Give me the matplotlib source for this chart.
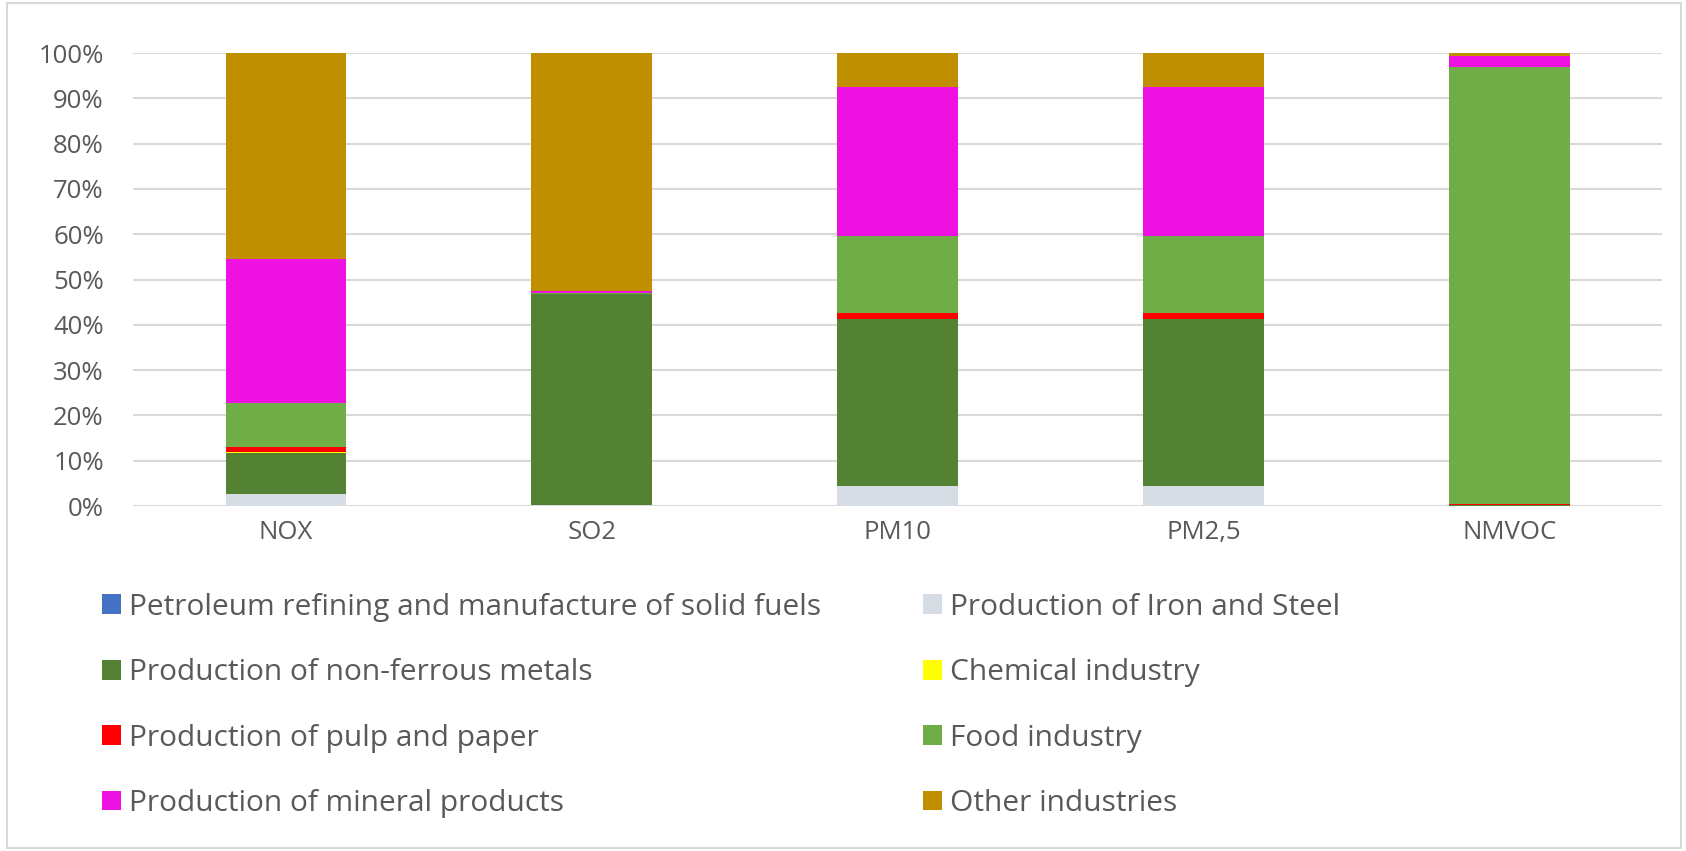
import matplotlib.pyplot as plt
import numpy as np
from matplotlib.patches import Patch, Rectangle

# Pollutants on the x axis
pollutants = ["NOX", "SO2", "PM10", "PM2,5", "NMVOC"]

# Share of each industry in the emissions of each pollutant (%)
petroleum = [0.0, 0.0, 0.0, 0.0, 0.0]
iron_steel = [2.6, 0.2, 4.4, 4.4, 0.1]
non_ferrous = [9.0, 46.5, 36.9, 36.9, 0.1]
chemical = [0.3, 0.0, 0.0, 0.0, 0.0]
pulp_paper = [1.2, 0.1, 1.3, 1.3, 0.2]
food = [9.6, 0.2, 16.9, 16.9, 96.6]
mineral = [31.8, 0.4, 33.0, 33.0, 2.4]
other = [45.5, 52.6, 7.5, 7.5, 0.6]

series = [
    ("Petroleum refining and manufacture of solid fuels", petroleum, "#4472C4"),
    ("Production of Iron and Steel", iron_steel, "#D6DCE4"),
    ("Production of non-ferrous metals", non_ferrous, "#548235"),
    ("Chemical industry", chemical, "#FFFF00"),
    ("Production of pulp and paper", pulp_paper, "#FF0000"),
    ("Food industry", food, "#70AD47"),
    ("Production of mineral products", mineral, "#EE12E2"),
    ("Other industries", other, "#BF8F00"),
]

plt.rcParams['font.family'] = ['Open Sans', 'DejaVu Sans']

fig = plt.figure(figsize=(16.86, 8.51), dpi=100)
ax = fig.add_axes([0.0789, 0.4054, 0.9069, 0.5323])

x = np.arange(len(pollutants))
bottom = np.zeros(len(pollutants))
handles = []
for name, vals, color in series:
    # stacked shares, 0..1
    vals = np.array(vals, dtype=float) / 100.0
    ax.bar(x, vals, bottom=bottom, width=0.395, color=color, zorder=3)
    bottom += vals
    handles.append(Patch(facecolor=color, label=name))

ax.set_xlim(-0.5, len(pollutants) - 0.5)
ax.set_ylim(0, 1)
ticks = np.arange(0, 1.01, 0.1)
ax.set_yticks(ticks)
ax.set_yticklabels([f"{int(round(v * 100))}%" for v in ticks])
ax.set_xticks(x)
ax.set_xticklabels(pollutants)
ax.tick_params(axis='both', length=0, labelsize=18.5, labelcolor="#595959")
ax.tick_params(axis='y', pad=21)
ax.tick_params(axis='x', pad=10)
ax.grid(axis='y', color="#D9D9D9", linewidth=1.5, zorder=0)
for s in ax.spines.values():
    s.set_visible(False)

# two legend columns, filled row by row
left_col = handles[0::2]
right_col = handles[1::2]
leg_kw = dict(loc="upper left", frameon=False, fontsize=21.5, labelcolor="#595959",
              handlelength=0.64, handleheight=0.64, handletextpad=0.28,
              labelspacing=1.22, borderaxespad=0, borderpad=0)
fig.legend(handles=left_col, bbox_to_anchor=(0.0603, 0.3035), **leg_kw)
fig.legend(handles=right_col, bbox_to_anchor=(0.5474, 0.3035), **leg_kw)

# chart frame
fig.patches.append(Rectangle((0.004, 0.003), 0.993, 0.994, transform=fig.transFigure,
                             fill=False, edgecolor="#D9D9D9", linewidth=1.5))

fig.savefig("out.png", dpi=100)
